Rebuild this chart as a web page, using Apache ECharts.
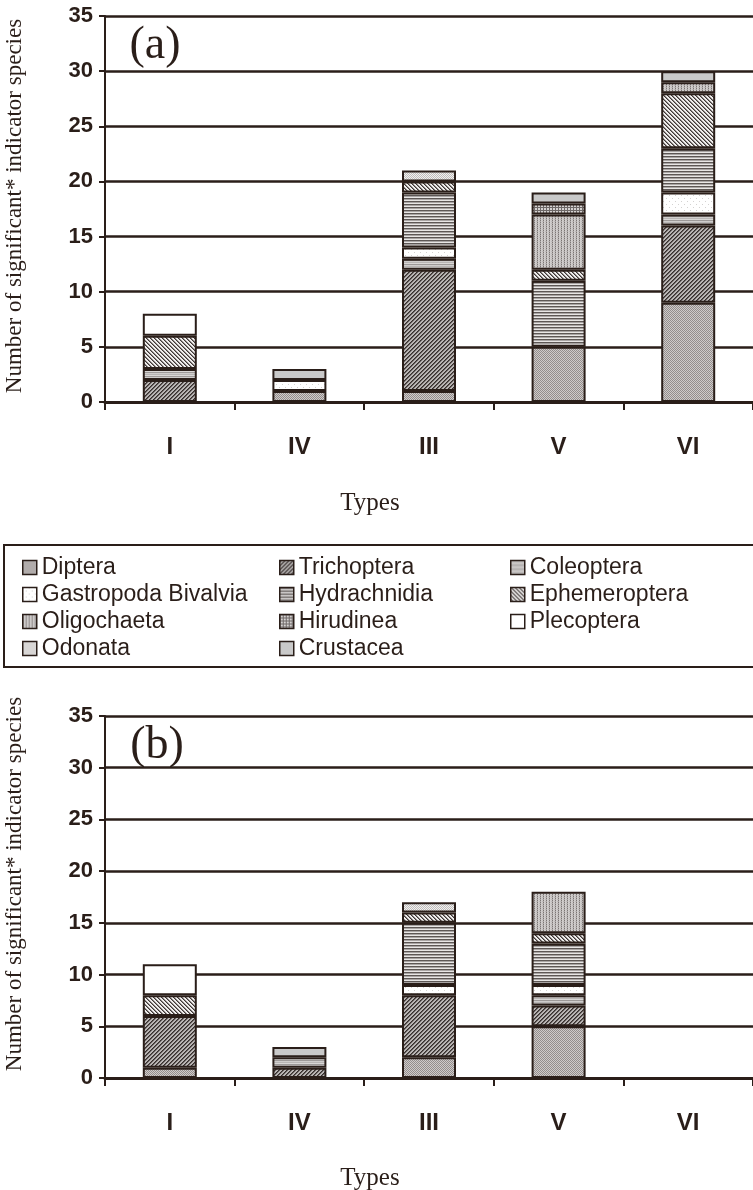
<!DOCTYPE html>
<html>
<head>
<meta charset="utf-8">
<script src="https://cdn.jsdelivr.net/npm/echarts@6/dist/echarts.min.js"></script>
<style>
  html, body { margin: 0; padding: 0; background: #ffffff; }
  #chart { width: 753px; height: 1190px; }
</style>
</head>
<body>
<div id="chart"></div>
<script>
// Site types along the horizontal axis
const types = ['I', 'IV', 'III', 'V', 'VI'];

// Taxonomic groups, in stacking order (bottom to top)
const taxa = ['Diptera', 'Trichoptera', 'Coleoptera', 'Gastropoda Bivalvia', 'Hydrachnidia',
  'Ephemeroptera', 'Oligochaeta', 'Hirudinea', 'Plecoptera', 'Odonata', 'Crustacea'];

// Panel (a): number of significant indicator species per type
const dipteraA       = [0, 1, 1, 5, 9];
const trichopteraA   = [2, 0, 11, 0, 7];
const coleopteraA    = [1, 0, 1, 0, 1];
const gastropodaA    = [0, 1, 1, 0, 2];
const hydrachnidiaA  = [0, 0, 5, 6, 4];
const ephemeropteraA = [3, 0, 1, 1, 5];
const oligochaetaA   = [0, 0, 0, 5, 1];
const hirudineaA     = [0, 0, 0, 1, 0];
const plecopteraA    = [2, 0, 0, 0, 0];
const odonataA       = [0, 0, 1, 0, 0];
const crustaceaA     = [0, 1, 0, 1, 1];

// Panel (b)
const dipteraB       = [1, 0, 2, 5, 0];
const trichopteraB   = [5, 1, 6, 2, 0];
const coleopteraB    = [0, 1, 0, 1, 0];
const gastropodaB    = [0, 0, 1, 1, 0];
const hydrachnidiaB  = [0, 0, 6, 4, 0];
const ephemeropteraB = [2, 0, 1, 1, 0];
const oligochaetaB   = [0, 0, 0, 4, 0];
const hirudineaB     = [0, 0, 0, 0, 0];
const plecopteraB    = [3, 0, 0, 0, 0];
const odonataB       = [0, 0, 1, 0, 0];
const crustaceaB     = [0, 1, 0, 0, 0];

// Value axis range and labels
const yMin = 0, yMax = 35, yStep = 5;
const yTickLabels = ['0', '5', '10', '15', '20', '25', '30', '35'];

const panelA = [dipteraA, trichopteraA, coleopteraA, gastropodaA, hydrachnidiaA,
  ephemeropteraA, oligochaetaA, hirudineaA, plecopteraA, odonataA, crustaceaA];
const panelB = [dipteraB, trichopteraB, coleopteraB, gastropodaB, hydrachnidiaB,
  ephemeropteraB, oligochaetaB, hirudineaB, plecopteraB, odonataB, crustaceaB];

const ink = '#2a1e19';

// Small repeating canvas tiles used as hatch fills
function tile(w, h, paint) {
  const c = document.createElement('canvas');
  c.width = w; c.height = h;
  const g = c.getContext('2d');
  paint((x, y, col) => { g.fillStyle = col; g.fillRect(x, y, 1, 1); }, g);
  return { image: c, repeat: 'repeat' };
}
function fillAll(g, w, h, col) { g.fillStyle = col; g.fillRect(0, 0, w, h); }

const fills = [
  // Diptera: fine grey checker
  tile(2, 2, (p) => { p(0,0,'#938d8c'); p(1,1,'#938d8c'); p(1,0,'#cfcbca'); p(0,1,'#cfcbca'); }),
  // Trichoptera: dark forward diagonal
  tile(4, 4, (p) => { for (let x=0;x<4;x++) for (let y=0;y<4;y++) { const k=(x+y)%4; p(x,y, k===0?'#362e2c':(k===1?'#645e5c':'#b9b5b4')); } }),
  // Coleoptera: grey horizontal bands
  tile(1, 4, (p) => { p(0,0,'#9d9998'); p(0,1,'#cfcdcc'); p(0,2,'#b8b5b4'); p(0,3,'#d9d7d6'); }),
  // Gastropoda Bivalvia: white with sparse dots
  tile(6, 6, (p, g) => { fillAll(g,6,6,'#ffffff'); p(0,0,'#d4d2d1'); p(3,3,'#d4d2d1'); }),
  // Hydrachnidia: horizontal lines
  tile(1, 3, (p) => { p(0,0,'#5d5755'); p(0,1,'#a9a5a4'); p(0,2,'#e8e6e5'); }),
  // Ephemeroptera: fine back diagonal
  tile(4, 4, (p) => { for (let x=0;x<4;x++) for (let y=0;y<4;y++) { const k=(x-y+4)%4; p(x,y, k===0?'#3f3836':(k===1?'#8c8685':'#f0eeed')); } }),
  // Oligochaeta: grey with vertical dotted lines
  tile(3, 2, (p, g) => { fillAll(g,3,2,'#d0cdcc'); p(0,0,'#7b7574'); p(0,1,'#aeaaa9'); p(2,1,'#bdb9b8'); }),
  // Hirudinea: grid
  tile(3, 3, (p, g) => { fillAll(g,3,3,'#d6d3d2'); for (let i=0;i<3;i++){ p(i,0,'#6e6867'); p(0,i,'#6e6867'); } }),
  // Plecoptera: plain white
  '#ffffff',
  // Odonata: light checker
  tile(2, 2, (p) => { p(0,0,'#bfbcbb'); p(1,1,'#bfbcbb'); p(1,0,'#f2f1f0'); p(0,1,'#f2f1f0'); }),
  // Crustacea: flat light grey
  '#c9c9c9'
];

const sans = '"Liberation Sans", Arial, sans-serif';
const serif = '"Liberation Serif", "Times New Roman", serif';

function xAxisFor(gridIndex) {
  return {
    type: 'category', gridIndex, data: types,
    axisLine: { lineStyle: { color: ink, width: 3 } },
    axisTick: { show: true, alignWithLabel: false, length: 8, lineStyle: { color: ink, width: 2 } },
    axisLabel: { interval: 0, margin: 33, color: ink, fontFamily: sans, fontWeight: 'bold', fontSize: 24 },
    splitLine: { show: false }
  };
}
function yAxisFor(gridIndex) {
  return {
    type: 'value', gridIndex, min: yMin, max: yMax, interval: yStep,
    axisLine: { show: true, lineStyle: { color: ink, width: 2 } },
    axisTick: { show: true, length: 6, lineStyle: { color: ink, width: 2 } },
    axisLabel: { margin: 12, color: ink, fontFamily: sans, fontWeight: 'bold', fontSize: 22,
      formatter: (v) => yTickLabels[Math.round((v - yMin) / yStep)] },
    splitLine: { show: true, lineStyle: { color: ink, width: 2.5 } }
  };
}

const series = [];
[panelA, panelB].forEach((panel, pi) => {
  taxa.forEach((name, i) => {
    series.push({
      type: 'bar', name, stack: pi === 0 ? 'a' : 'b',
      xAxisIndex: pi, yAxisIndex: pi, barWidth: 54,
      data: panel[i].map((v) => (v === 0 ? '-' : v)),
      itemStyle: { color: fills[i], borderColor: ink, borderWidth: 2 },
      emphasis: { disabled: true }
    });
  });
});

function legendColumn(left, names) {
  return {
    orient: 'vertical', left, top: 556, padding: 0,
    itemWidth: 14, itemHeight: 14, itemGap: 4, itemTextGap: 4,
    icon: 'rect', data: names,
    itemStyle: { borderColor: ink, borderWidth: 1.5 },
    textStyle: { color: ink, fontFamily: sans, fontSize: 23, lineHeight: 22, height: 22, padding: 0 }
  };
}

const yName = 'Number of significant* indicator species';

const option = {
  animation: false,
  backgroundColor: '#ffffff',
  grid: [
    { left: 105, top: 16, width: 652, height: 386 },
    { left: 105, top: 716, width: 652, height: 362 }
  ],
  xAxis: [xAxisFor(0), xAxisFor(1)],
  yAxis: [yAxisFor(0), yAxisFor(1)],
  legend: [
    legendColumn(22, [taxa[0], taxa[3], taxa[6], taxa[9]]),
    legendColumn(279, [taxa[1], taxa[4], taxa[7], taxa[10]]),
    legendColumn(510, [taxa[2], taxa[5], taxa[8]])
  ],
  graphic: [
    { type: 'rect', shape: { x: 4, y: 545, width: 760, height: 122 },
      style: { fill: 'none', stroke: ink, lineWidth: 2 }, silent: true },
    { type: 'text', x: 155, y: 46, style: { text: '(a)', font: '46px ' + serif, fill: ink, align: 'center', verticalAlign: 'middle' } },
    { type: 'text', x: 157, y: 746, style: { text: '(b)', font: '46px ' + serif, fill: ink, align: 'center', verticalAlign: 'middle' } },
    { type: 'text', x: 370, y: 503, style: { text: 'Types', font: '25px ' + serif, fill: ink, align: 'center', verticalAlign: 'middle' } },
    { type: 'text', x: 370, y: 1178, style: { text: 'Types', font: '25px ' + serif, fill: ink, align: 'center', verticalAlign: 'middle' } },
    { type: 'text', x: 15, y: 206, rotation: Math.PI / 2, style: { text: yName, font: '23px ' + serif, fill: ink, align: 'center', verticalAlign: 'middle' } },
    { type: 'text', x: 15, y: 884, rotation: Math.PI / 2, style: { text: yName, font: '23px ' + serif, fill: ink, align: 'center', verticalAlign: 'middle' } }
  ],
  series
};

const chart = echarts.init(document.getElementById('chart'), null, { renderer: 'canvas' });
chart.setOption(option);
</script>
</body>
</html>
